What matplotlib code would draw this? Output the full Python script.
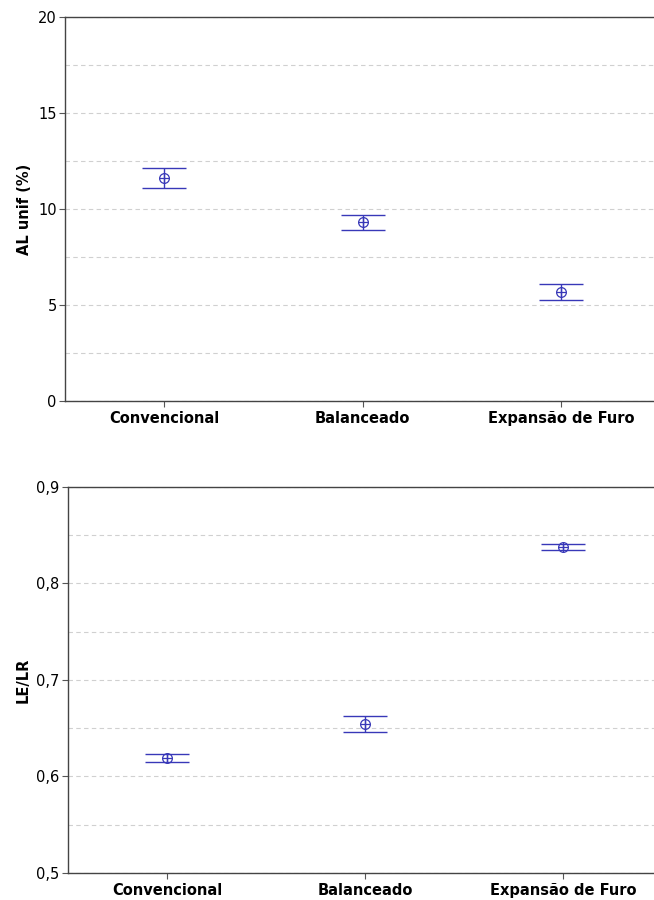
import matplotlib
matplotlib.use("Agg")
import matplotlib.pyplot as plt
from matplotlib.ticker import FuncFormatter, MultipleLocator

categories = ["Convencional", "Balanceado", "Expansão de Furo"]

al_mean = [11.61, 9.30, 5.67]
al_upper = [12.13, 9.69, 6.09]
al_lower = [11.09, 8.91, 5.26]

le_mean = [0.6190, 0.6544, 0.8381]
le_upper = [0.6234, 0.6624, 0.8406]
le_lower = [0.6151, 0.6464, 0.8350]

plt.rcParams["font.family"] = ["DejaVu Sans"]
BLUE = "#3838b8"

fig = plt.figure(figsize=(6.54, 9.0), dpi=100)
ax1 = fig.add_axes([0.0994, 0.5544, 0.9106, 0.4267])
ax2 = fig.add_axes([0.1040, 0.0300, 0.9080, 0.4289])


def draw_panel(ax, mean, upper, lower, ylim, major, minor, ylabel, fmt):
    x = list(range(len(categories)))
    yerr = [[m - lo for m, lo in zip(mean, lower)],
            [up - m for m, up in zip(mean, upper)]]
    ax.errorbar(x, mean, yerr=yerr, fmt="none", ecolor=BLUE,
                elinewidth=1.0, capsize=16, capthick=1.0, zorder=3)
    ax.plot(x, mean, "o", ms=7, mfc="none", mec=BLUE, mew=0.9, zorder=4)
    ax.plot(x, mean, "+", ms=7, color=BLUE, mew=0.9, zorder=4)
    ax.set_xlim(-0.5, 2.5)
    ax.set_ylim(*ylim)
    ax.yaxis.set_major_locator(MultipleLocator(major))
    ax.yaxis.set_minor_locator(MultipleLocator(minor))
    ax.yaxis.set_major_formatter(FuncFormatter(fmt))
    ax.set_xticks(x)
    ax.set_xticklabels(categories, fontsize=10.5, fontweight="bold")
    ax.set_ylabel(ylabel, fontsize=10.5, fontweight="bold", labelpad=4)
    ax.tick_params(axis="y", which="major", direction="out", length=4,
                   width=0.8, color="#555555", labelsize=10.5, pad=2)
    ax.tick_params(axis="y", which="minor", length=0)
    ax.tick_params(axis="x", direction="out", length=4, width=0.8,
                   color="#555555", pad=3)
    ax.grid(True, axis="y", which="both", linestyle=(0, (4, 3)),
            color="#d0d0d0", linewidth=0.8, zorder=0)
    ax.set_axisbelow(True)
    for side in ("left", "bottom", "top"):
        ax.spines[side].set_color("#444444")
        ax.spines[side].set_linewidth(1.0)
    ax.spines["right"].set_visible(False)


draw_panel(ax1, al_mean, al_upper, al_lower, (0, 20), 5, 2.5,
           "AL unif (%)", lambda v, p: f"{v:.0f}")
draw_panel(ax2, le_mean, le_upper, le_lower, (0.5, 0.9), 0.1, 0.05,
           "LE/LR", lambda v, p: f"{v:.1f}".replace(".", ","))

fig.savefig("out.png", dpi=100)
